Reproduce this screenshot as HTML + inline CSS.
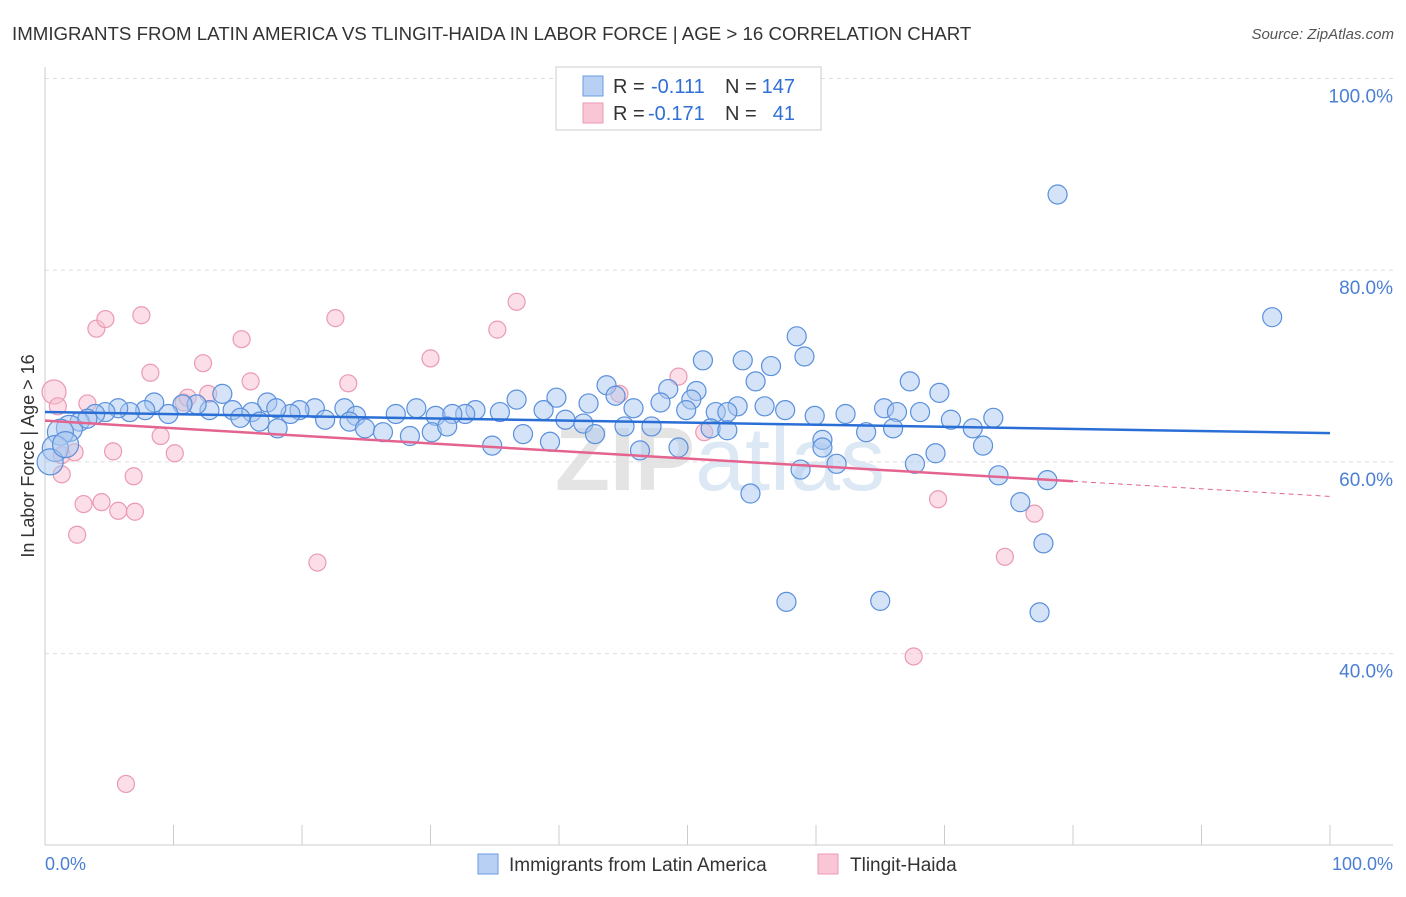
<!DOCTYPE html>
<html><head><meta charset="utf-8"><style>
body{margin:0;background:#fff;font-family:"Liberation Sans",sans-serif}
svg text{font-family:"Liberation Sans",sans-serif}
</style></head><body>
<svg id="chart" width="1406" height="892" viewBox="0 0 1406 892" xmlns="http://www.w3.org/2000/svg">
<text x="12" y="40" font-size="18.7" fill="#333">IMMIGRANTS FROM LATIN AMERICA VS TLINGIT-HAIDA IN LABOR FORCE | AGE &gt; 16 CORRELATION CHART</text>
<text x="1394" y="39" font-size="15" fill="#555" text-anchor="end" font-style="italic">Source: ZipAtlas.com</text>
<text x="720" y="490" font-size="90" fill="#e4e4e4" text-anchor="middle" font-weight="bold">ZIP<tspan fill="#dde8f5" font-weight="normal">atlas</tspan></text>
<g id="grid"></g>
<g id="ticks"></g>
<line x1="45" y1="67" x2="45" y2="845" stroke="#ccc"/>
<line x1="45" y1="845" x2="1393" y2="845" stroke="#ccc"/>
<text transform="translate(34,456) rotate(-90)" font-size="18" fill="#333" text-anchor="middle">In Labor Force | Age &gt; 16</text>
<text x="45" y="870" font-size="18" fill="#4a7fd4">0.0%</text>
<text x="1393" y="870" font-size="18" fill="#4a7fd4" text-anchor="end">100.0%</text>
<g id="pink"></g>
<g id="blue"></g>
<g id="trends"></g>
<g>
<rect x="556" y="67" width="265" height="63" fill="#fff" stroke="#ccc"/>
<rect x="583" y="76" width="20" height="20" fill="#b7d0f3" stroke="#6a9be0"/>
<rect x="583" y="103" width="20" height="20" fill="#f8c6d4" stroke="#ea9ab2"/>
<text x="613" y="93" font-size="20" fill="#333">R =</text>
<text x="651" y="93" font-size="20" fill="#2f6fd6">-0.111</text>
<text x="725" y="93" font-size="20" fill="#333">N =</text>
<text x="795" y="93" font-size="20" fill="#2f6fd6" text-anchor="end">147</text>
<text x="613" y="120" font-size="20" fill="#333">R =</text>
<text x="648" y="120" font-size="20" fill="#2f6fd6">-0.171</text>
<text x="725" y="120" font-size="20" fill="#333">N =</text>
<text x="795" y="120" font-size="20" fill="#2f6fd6" text-anchor="end">41</text>
</g>
<g>
<rect x="478" y="854" width="20" height="20" fill="#b7d0f3" stroke="#6a9be0"/>
<text x="509" y="871" font-size="19" fill="#333">Immigrants from Latin America</text>
<rect x="818" y="854" width="20" height="20" fill="#f8c6d4" stroke="#ea9ab2"/>
<text x="850" y="871" font-size="19" fill="#333">Tlingit-Haida</text>
</g>
</svg>
<script>
const yTicks=[40,60,80,100];
const xTickVals=[0,10,20,30,40,50,60,70,80,90,100];
const blueX=[78.8,95.5,58.5,59.1,51.2,54.3,56.5,55.3,67.3,69.6,43.7,50.7,48.5,47.9,50.3,52.2,53.9,56.0,57.6,53.1,49.9,44.4,45.8,42.3,39.8,38.8,36.7,33.5,35.4,32.7,28.9,30.4,31.7,27.3,23.3,24.2,21.0,19.8,19.1,17.3,18.0,16.1,14.6,13.8,12.8,11.8,10.7,9.6,8.5,7.8,6.6,5.7,4.7,3.9,2.7,1.9,1.2,0.8,0.4,1.6,3.3,15.2,16.7,18.1,21.8,23.7,24.9,26.3,28.4,30.1,31.3,34.8,37.2,39.3,40.5,41.9,42.8,45.1,46.3,47.2,49.3,51.8,53.1,54.9,58.8,59.9,60.5,60.5,61.6,62.3,63.9,65.3,66.3,66.0,67.7,68.1,69.3,70.5,72.2,73.0,73.8,74.2,75.9,78.0,77.7,77.4,57.7,65.0];
const blueY=[87.9,75.1,73.1,71.0,70.6,70.6,70.0,68.4,68.4,67.2,68.0,67.4,67.6,66.2,66.5,65.2,65.8,65.8,65.4,65.2,65.4,66.9,65.6,66.1,66.7,65.4,66.5,65.4,65.2,65.0,65.6,64.8,65.0,65.0,65.6,64.8,65.6,65.4,65.0,66.2,65.6,65.2,65.4,67.1,65.4,66.0,66.0,65.0,66.2,65.4,65.2,65.6,65.2,65.0,64.2,63.5,63.1,61.4,60.0,61.8,64.5,64.6,64.2,63.5,64.4,64.2,63.5,63.1,62.7,63.1,63.7,61.7,62.9,62.1,64.4,64.0,62.9,63.7,61.2,63.7,61.5,63.5,63.3,56.7,59.2,64.8,62.3,61.5,59.8,65.0,63.1,65.6,65.2,63.5,59.8,65.2,60.9,64.4,63.5,61.7,64.6,58.6,55.8,58.1,51.5,44.3,45.4,45.5];
const pinkX=[0.7,1.0,1.3,1.3,2.3,2.5,3.0,3.3,4.0,4.7,4.4,5.3,5.7,6.3,6.9,7.0,7.5,8.2,9.0,10.1,10.8,11.1,12.3,12.7,15.3,16.0,21.2,22.6,23.6,30.0,35.2,36.7,44.7,49.3,51.3,67.6,69.5,74.7,77.0];
const pinkY=[67.3,65.8,60.7,58.7,61.0,52.4,55.6,66.1,73.9,74.9,55.8,61.1,54.9,26.4,58.5,54.8,75.3,69.3,62.7,60.9,66.2,66.7,70.3,67.1,72.8,68.4,49.5,75.0,68.2,70.8,73.8,76.7,67.1,68.9,63.1,39.7,56.1,50.1,54.6];
const blueTrend=[65.2,63.0];
const pinkTrend=[64.3,56.4];
const pinkSolidEnd=80;
const NS="http://www.w3.org/2000/svg";
const X=v=>45+v*12.85, Y=v=>1037-v*9.585;
function mk(tag,attrs,parent){const e=document.createElementNS(NS,tag);for(const k in attrs)e.setAttribute(k,attrs[k]);parent.appendChild(e);return e;}
const grid=document.getElementById('grid');
yTicks.forEach(t=>{
 const l=mk('line',{x1:45,x2:1393,y1:Y(t),y2:Y(t),stroke:'#ddd','stroke-dasharray':'4,4'},grid);
 
 
 const tx=mk('text',{x:1393,y:Y(t)+24,'font-size':19,fill:'#4a7fd4','text-anchor':'end'},grid);
 tx.textContent=t.toFixed(1)+'%';
 
 
});
const ticks=document.getElementById('ticks');
xTickVals.forEach(t=>{
 const l=mk('line',{x1:X(t),x2:X(t),y1:825,y2:845,stroke:'#ccc'},ticks);
 
 
});
const pg=document.getElementById('pink');
pinkX.forEach((v,i)=>{
 const c=mk('circle',{cx:X(v),cy:Y(pinkY[i]),r:i==0?12:8.5,fill:'rgba(248,190,208,0.5)',stroke:'#ea9ab2','stroke-width':1.2},pg);
 
 
});
const bg=document.getElementById('blue');
blueX.forEach((v,i)=>{
 const c=mk('circle',{cx:X(v),cy:Y(blueY[i]),r:v<2?13:9.5,fill:'rgba(170,200,240,0.5)',stroke:'#5a90dc','stroke-width':1.2},bg);
 
 
});
const tg=document.getElementById('trends');
const bl=mk('line',{x1:X(0),y1:Y(blueTrend[0]),x2:X(100),y2:Y(blueTrend[1]),stroke:'#2a6fd6','stroke-width':2.5},tg);


const pm=pinkTrend[0]+(pinkTrend[1]-pinkTrend[0])*pinkSolidEnd/100;
const pl=mk('line',{x1:X(0),y1:Y(pinkTrend[0]),x2:X(pinkSolidEnd),y2:Y(pm),stroke:'#e4648f','stroke-width':2.5},tg);


const pd=mk('line',{x1:X(pinkSolidEnd),y1:Y(pm),x2:X(100),y2:Y(pinkTrend[1]),stroke:'#e4648f','stroke-width':1,'stroke-dasharray':'5,4'},tg);


</script>
</body></html>
